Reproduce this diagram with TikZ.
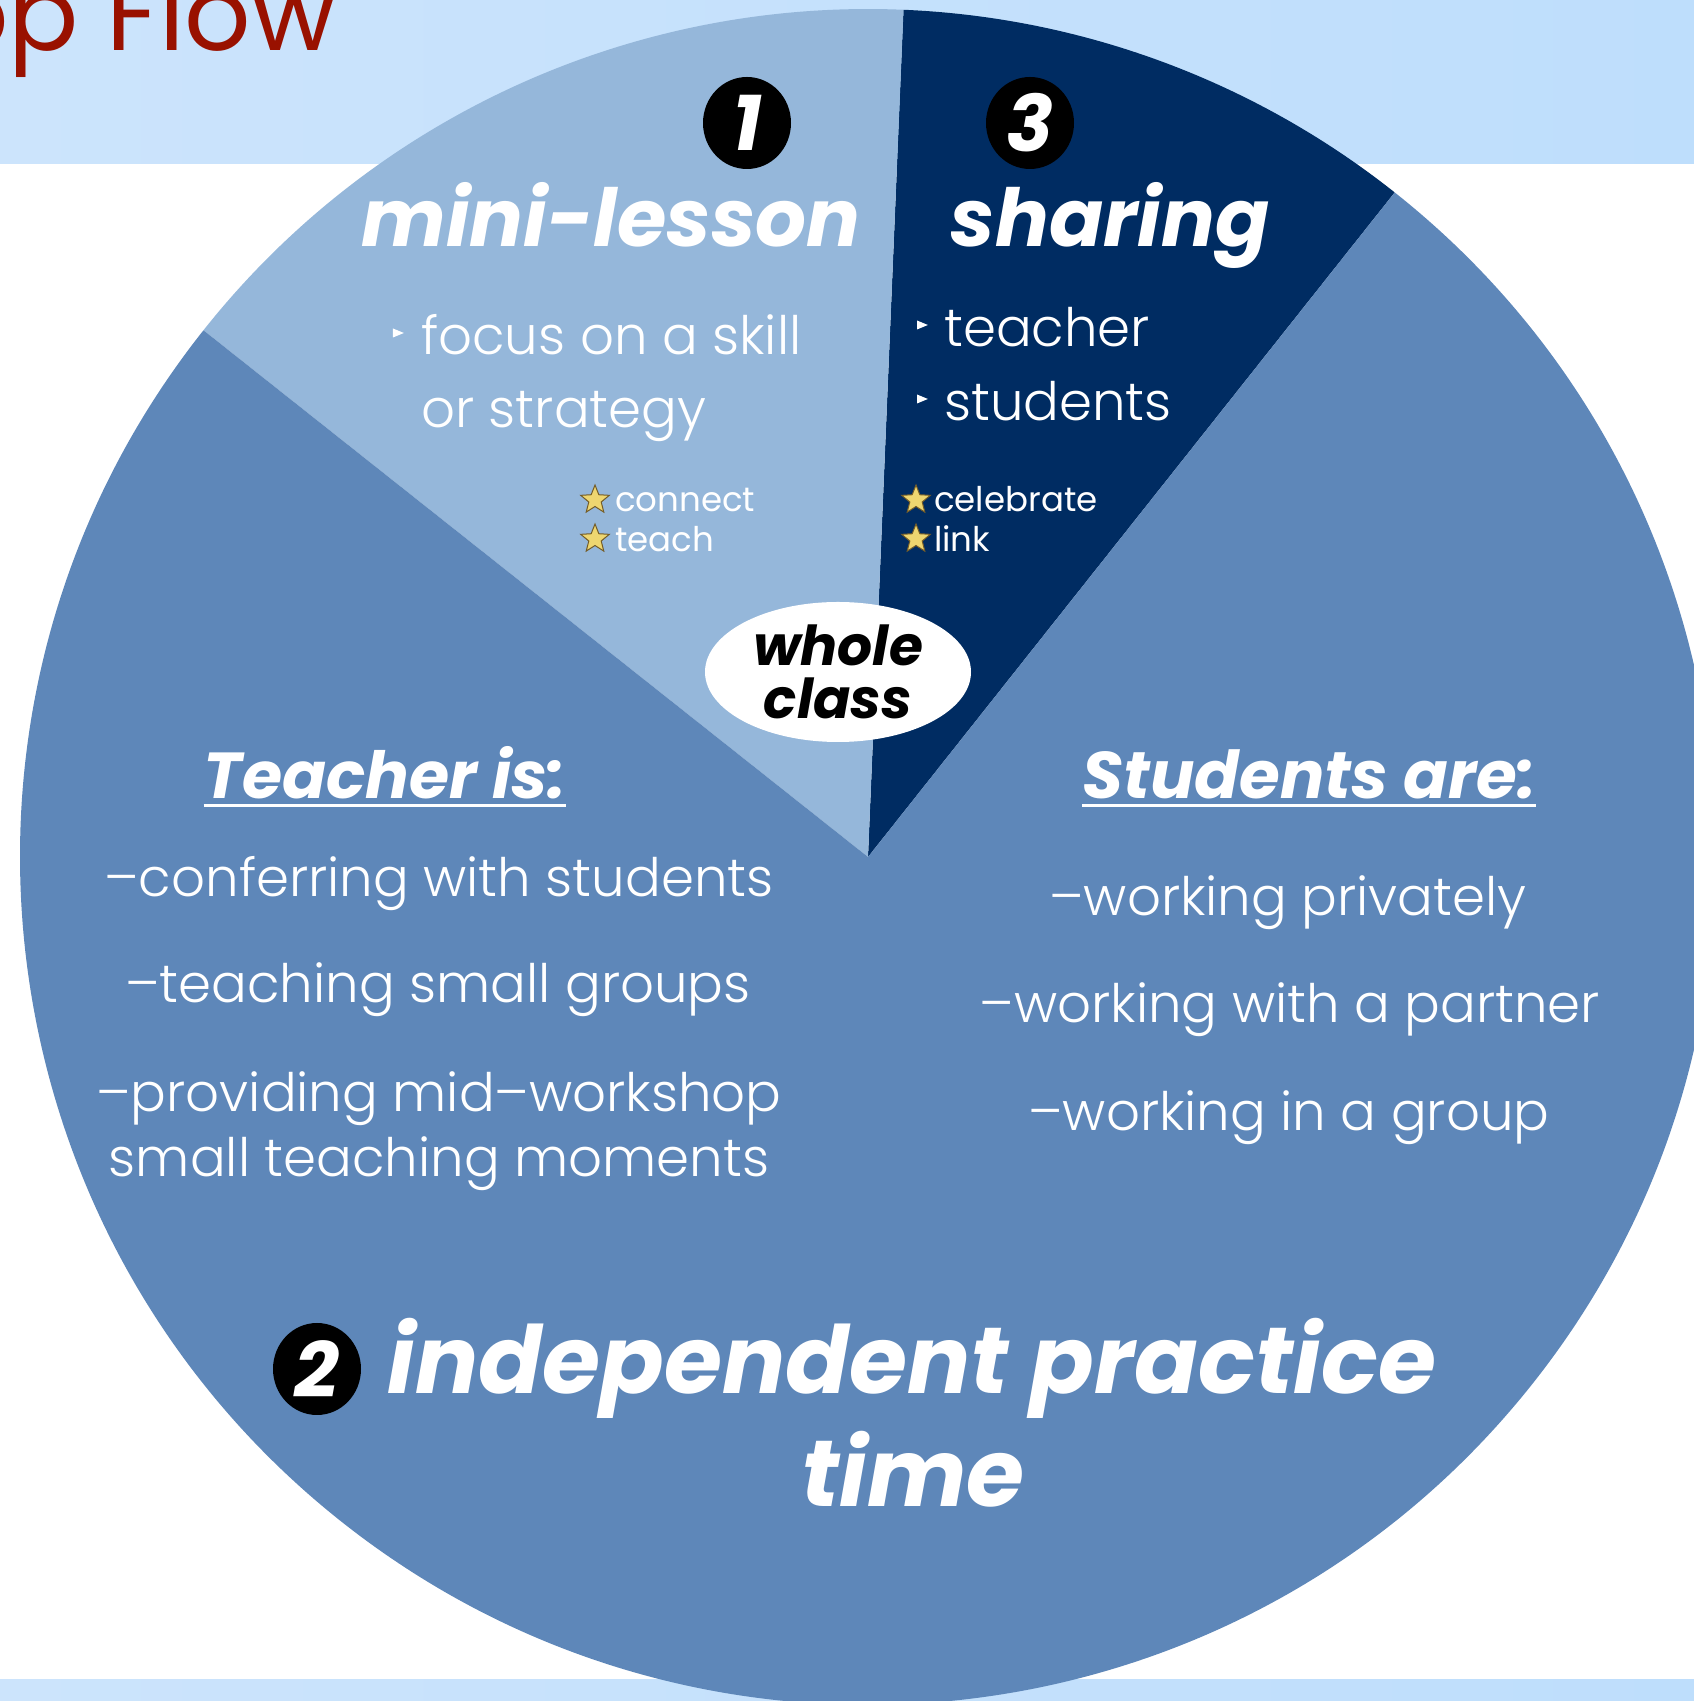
\documentclass[tikz,border=0pt]{standalone}
\usepackage{fontspec}
\setmainfont{Poppins}
\newfontfamily\thinfont{Poppins Light}
\usetikzlibrary{shapes.geometric}

\definecolor{bandL}{RGB}{204,228,252}
\definecolor{bandR}{RGB}{190,222,252}
\definecolor{minicol}{RGB}{149,183,218}
\definecolor{sharecol}{RGB}{0,44,98}
\definecolor{indepcol}{RGB}{94,135,185}
\definecolor{titlered}{RGB}{153,17,0}
\definecolor{stargold}{RGB}{238,214,112}
\definecolor{staredge}{RGB}{115,92,40}

\tikzset{
  head/.style={text=white, inner sep=0pt, anchor=base, font=\fontsize{80}{84}\selectfont\bfseries\itshape},
  body/.style={text=white, inner sep=0pt, anchor=base, font=\thinfont\fontsize{53}{58}\selectfont},
  small/.style={text=white, inner sep=0pt, anchor=base west, font=\fontsize{34}{38}\selectfont},
  numball/.style={ellipse, fill=black, minimum width=88pt, minimum height=92pt, inner sep=0pt,
    text=white, font=\fontsize{78}{78}\selectfont\bfseries\itshape},
  goldstar/.style={star, star points=5, star point ratio=2.3, minimum size=30pt, inner sep=0pt,
    fill=stargold, draw=staredge, line width=1pt},
  bullet/.style={isosceles triangle, fill=white, minimum height=9pt, minimum width=9pt, inner sep=0pt}
}

\begin{document}
\begin{tikzpicture}[x=1pt,y=1pt]
\useasboundingbox (0,0) rectangle (1694,1701);
\clip (0,0) rectangle (1694,1701);
% bands
\shade[left color=bandL, right color=bandR] (0,1537) rectangle (1694,1701);
\shade[left color=bandL, right color=bandR] (0,0) rectangle (1694,21);
\node[anchor=base east, inner sep=0pt, text=titlered, font=\fontsize{104}{104}\selectfont] (titleflow) at (337,1650) {op Flow};
% pie
\coordinate (c) at (868,844);
\fill[sharecol] (c) -- ++(51.6:848) arc[start angle=51.6, end angle=87.6, radius=848pt] -- cycle;
\fill[minicol] (c) -- ++(87.6:848) arc[start angle=87.6, end angle=141.6, radius=848pt] -- cycle;
\fill[indepcol] (c) -- ++(141.6:848) arc[start angle=141.6, end angle=411.6, radius=848pt] -- cycle;
% mini-lesson
\node[numball] (oneball) at (747,1578) {1};
\node[head] (minihead) at (611,1454) {mini-lesson};
\node[body, anchor=base west] (focusa) at (421,1346) {focus on a skill};
\node[body, anchor=base west] (focusb) at (421,1273) {or strategy};
\node[bullet] (focusbul) at (396,1368) {};
\node[goldstar] (connectstar) at (595,1201) {};
\node[small] (connecttxt) at (615,1189) {connect};
\node[goldstar] (teachstar) at (595,1162) {};
\node[small] (teachtxt) at (615,1149) {teach};
% sharing
\node[numball] (threeball) at (1030,1578) {3};
\node[head] (sharehead) at (1110,1454) {sharing};
\node[body, anchor=base west] (teacherb) at (944,1354) {teacher};
\node[body, anchor=base west] (studentsb) at (944,1280) {students};
\node[bullet] (teacherbul) at (920,1376) {};
\node[bullet] (studentsbul) at (920,1302) {};
\node[goldstar] (celebstar) at (916,1201) {};
\node[small] (celebtxt) at (934,1189) {celebrate};
\node[goldstar] (linkstar) at (916,1162) {};
\node[small] (linktxt) at (934,1149) {link};
% whole class
\node[ellipse, fill=white, minimum width=266pt, minimum height=140pt, inner sep=0pt, align=center,
  font=\fontsize{55}{53}\selectfont\bfseries\itshape] (whole) at (838,1029) {whole\\class};
% independent practice
\node[head, font=\fontsize{65}{68}\selectfont\bfseries\itshape] (teachhead) at (385,902) {Teacher is:};
\draw[white, line width=3pt] ([yshift=-7pt]teachhead.base west) -- ([yshift=-7pt]teachhead.base east);
\node[body] (confer) at (439,804) {–conferring with students};
\node[body] (groups) at (438,698) {–teaching small groups};
\node[body] (midws) at (439,589) {–providing mid–workshop};
\node[body] (moments) at (439,524) {small teaching moments};
\node[head, font=\fontsize{66}{68}\selectfont\bfseries\itshape] (studhead) at (1309,902) {Students are:};
\draw[white, line width=3pt] ([yshift=-7pt]studhead.base west) -- ([yshift=-7pt]studhead.base east);
\node[body] (privately) at (1288,785) {–working privately};
\node[body] (partner) at (1290,678) {–working with a partner};
\node[body] (group) at (1289,570) {–working in a group};
\node[numball] (twoball) at (317,332) {2};
\node[head, font=\fontsize{94}{96}\selectfont\bfseries\itshape] (indephead) at (912,307) {independent practice};
\node[head, font=\fontsize{94}{96}\selectfont\bfseries\itshape] (timehead) at (913,194) {time};
\end{tikzpicture}
\end{document}
